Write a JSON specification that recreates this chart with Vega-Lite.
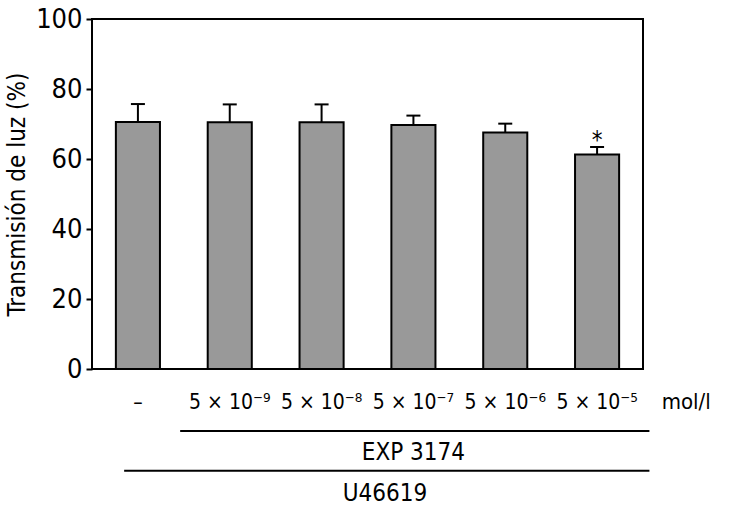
{
  "$schema": "https://vega.github.io/schema/vega-lite/v6.json",
  "autosize": "none",
  "width": 551,
  "height": 350,
  "padding": {"left": 92, "top": 19, "right": 87, "bottom": 145},
  "background": "white",
  "config": {
    "font": "DejaVu Sans Condensed",
    "view": {"stroke": "black", "strokeWidth": 2},
    "axis": {"labelFont": "DejaVu Sans Condensed", "titleFont": "DejaVu Sans Condensed", "labelColor": "black", "titleColor": "black"},
    "text": {"font": "DejaVu Sans Condensed"}
  },
  "datasets": {
    "bars": [
      {"cat": "–", "value": 70.6, "err": 75.7, "star": ""},
      {"cat": "5 × 10⁻⁹", "value": 70.5, "err": 75.6, "star": ""},
      {"cat": "5 × 10⁻⁸", "value": 70.5, "err": 75.6, "star": ""},
      {"cat": "5 × 10⁻⁷", "value": 69.7, "err": 72.4, "star": ""},
      {"cat": "5 × 10⁻⁶", "value": 67.6, "err": 70.1, "star": ""},
      {"cat": "5 × 10⁻⁵", "value": 61.3, "err": 63.4, "star": "*"}
    ],
    "lines": [
      {"x": 0.96, "x2": 6.07, "y": -17.7},
      {"x": 0.35, "x2": 6.07, "y": -29.1}
    ],
    "notes": [
      {"x": 3.5, "y": -23.9, "label": "EXP 3174", "size": 24},
      {"x": 3.19, "y": -35.6, "label": "U46619", "size": 24},
      {"x": 6.47, "y": -9.4, "label": "mol/l", "size": 22}
    ]
  },
  "resolve": {"scale": {"x": "independent"}},
  "layer": [
    {
      "data": {"name": "bars"},
      "encoding": {
        "x": {
          "field": "cat", "type": "nominal", "sort": null,
          "scale": {"paddingInner": 0.52, "paddingOuter": 0.26},
          "axis": {"title": null, "ticks": false, "domain": false, "labelAngle": 0, "labelFontSize": 21, "labelPadding": 33, "labelBaseline": "middle"}
        }
      },
      "layer": [
        {
          "mark": {"type": "bar", "fill": "#999999", "stroke": "black", "strokeWidth": 2},
          "encoding": {
            "y": {
              "field": "value", "type": "quantitative",
              "scale": {"domain": [0, 100], "nice": false},
              "axis": {"title": "Transmisión de luz (%)", "titleFontSize": 24, "titleFontWeight": "normal", "titlePadding": 6, "labelFontSize": 27, "labelPadding": 4, "values": [0, 20, 40, 60, 80, 100], "tickSize": 6, "tickWidth": 2, "tickColor": "black", "domain": false, "grid": false}
            }
          }
        },
        {
          "mark": {"type": "rule", "stroke": "black", "strokeWidth": 2},
          "encoding": {
            "y": {"field": "value", "type": "quantitative", "scale": {"domain": [0, 100], "nice": false}},
            "y2": {"field": "err"}
          }
        },
        {
          "mark": {"type": "tick", "color": "black", "size": 14, "thickness": 2, "opacity": 1},
          "encoding": {
            "y": {"field": "err", "type": "quantitative", "scale": {"domain": [0, 100], "nice": false}}
          }
        },
        {
          "mark": {"type": "text", "fontSize": 24, "color": "black", "baseline": "middle", "dy": 5},
          "encoding": {
            "y": {"datum": 66.5, "type": "quantitative", "scale": {"domain": [0, 100], "nice": false}},
            "text": {"field": "star"}
          }
        }
      ]
    },
    {
      "data": {"name": "lines"},
      "mark": {"type": "rule", "stroke": "black", "strokeWidth": 2},
      "encoding": {
        "x": {"field": "x", "type": "quantitative", "scale": {"domain": [0, 6], "nice": false}, "axis": null},
        "x2": {"field": "x2"},
        "y": {"field": "y", "type": "quantitative", "scale": {"domain": [0, 100], "nice": false}}
      }
    },
    {
      "data": {"name": "notes"},
      "mark": {"type": "text", "color": "black", "baseline": "middle", "align": "center"},
      "encoding": {
        "x": {"field": "x", "type": "quantitative", "scale": {"domain": [0, 6], "nice": false}, "axis": null},
        "y": {"field": "y", "type": "quantitative", "scale": {"domain": [0, 100], "nice": false}},
        "text": {"field": "label"},
        "size": {"field": "size", "type": "quantitative", "scale": null}
      }
    }
  ]
}
